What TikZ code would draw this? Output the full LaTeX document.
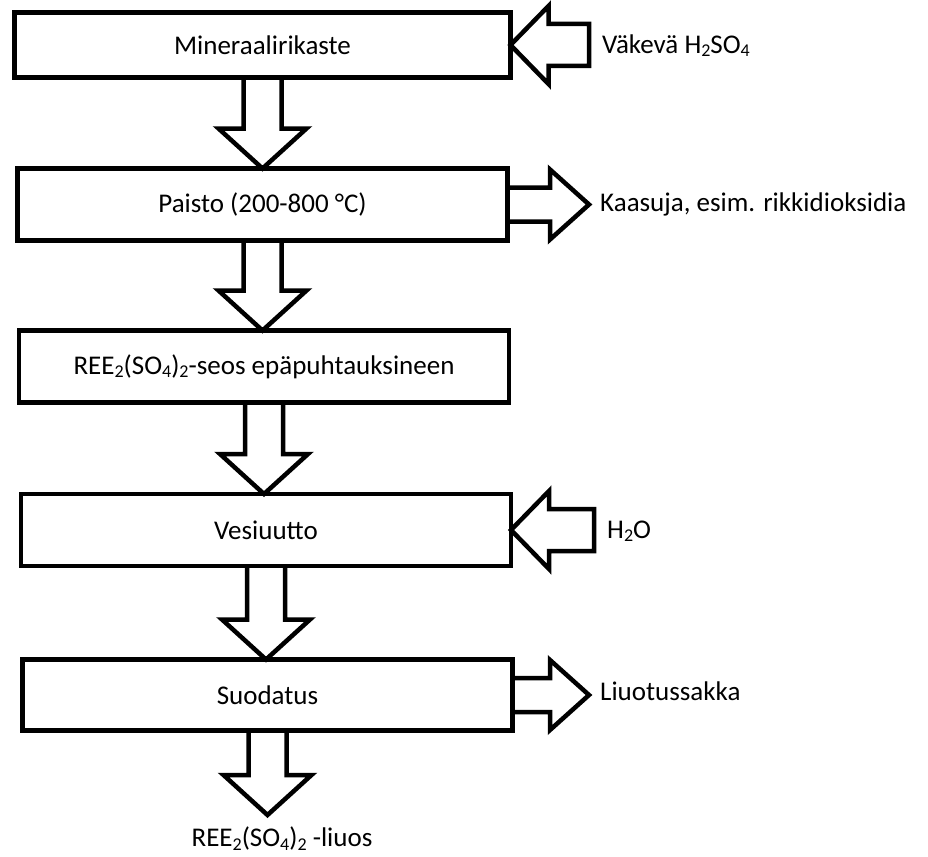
\documentclass[tikz,border=0pt]{standalone}
\usepackage{fontspec}
\setmainfont{Carlito}
\usepackage{tikz}
\usetikzlibrary{calc, positioning}

\tikzset{
    procbox/.style={draw, line width=4.5pt, outer sep=0pt, inner sep=0pt,
        font=\fontsize{27}{32}\selectfont},
    blockarrow/.style={draw, line width=4.5pt, line join=miter},
    sidetext/.style={anchor=west, inner sep=0pt, font=\fontsize{27}{32}\selectfont}
}

% alaindeksi kemiallisiin kaavoihin
\newcommand{\chsub}[1]{\raisebox{-0.12em}{\fontsize{18}{18}\selectfont #1}}

% nuoli alaspäin: #1 lähtöpiste, #2 kärki
\newcommand{\downblock}[2]{%
    \draw[blockarrow] ($(#1)+(-19,0)$) -- ($(#1 |- #2)+(-19,-40)$)
        -- ($(#1 |- #2)+(-44,-40)$) -- (#1 |- #2)
        -- ($(#1 |- #2)+(44,-40)$) -- ($(#1 |- #2)+(19,-40)$) -- ($(#1)+(19,0)$);}

% nuoli laatikkoon: #1 laatikko, #2 teksti
\newcommand{\inblock}[2]{%
    \draw[blockarrow] (#1.east) -- ($(#1.east)+(38,-39)$) -- ($(#1.east)+(38,-21)$)
        -- ($(#1.east -| #2.west)+(-13,-21)$) -- ($(#1.east -| #2.west)+(-13,21)$)
        -- ($(#1.east)+(38,21)$) -- ($(#1.east)+(38,39)$) -- cycle;}

% nuoli laatikosta ulos: #1 laatikko, #2 teksti
\newcommand{\outblock}[2]{%
    \draw[blockarrow] ($(#1.east)+(0,-17)$) -- ($(#1.east -| #2.west)+(-50,-17)$)
        -- ($(#1.east -| #2.west)+(-50,-35)$) -- ($(#1.east -| #2.west)+(-11,0)$)
        -- ($(#1.east -| #2.west)+(-50,35)$) -- ($(#1.east -| #2.west)+(-50,17)$)
        -- ($(#1.east)+(0,17)$);}

\begin{document}
\begin{tikzpicture}[x=1pt, y=-1pt]
    \useasboundingbox (0,0) rectangle (928,856);

    % Prosessivaiheet
    \node[procbox, minimum width=496pt, minimum height=65pt] (mineral) at (262.5,45) {Mineraalirikaste};
    \node[procbox, minimum width=490pt, minimum height=72pt] (paisto) at (262.5,204.5) {Paisto (200-800 °C)};
    \node[procbox, minimum width=490pt, minimum height=72pt] (seos) at (264,366.5) {REE\chsub{2}(SO\chsub{4})\chsub{2}-seos epäpuhtauksineen};
    \node[procbox, minimum width=490pt, minimum height=72pt] (vesi) at (266,530) {Vesiuutto};
    \node[procbox, minimum width=490pt, minimum height=71pt] (suodatus) at (267.5,695) {Suodatus};

    % Syötteet ja poistuvat virrat
    \node[sidetext] (happo) at (602,46) {Väkevä H\chsub{2}SO\chsub{4}};
    \node[sidetext] (kaasu) at (600,204) {Kaasuja, esim. rikkidioksidia};
    \node[sidetext] (vesitxt) at (607,531) {H\chsub{2}O};
    \node[sidetext] (sakka) at (600,691) {Liuotussakka};

    % Tuote
    \coordinate (endtip) at (265,815);
    \node[sidetext, anchor=north, below=12pt of endtip, xshift=17pt] (liuos) {REE\chsub{2}(SO\chsub{4})\chsub{2} -liuos};

    % Nuolet vaiheiden välillä
    \downblock{mineral.south}{paisto.north}
    \downblock{paisto.south}{seos.north}
    \downblock{seos.south}{vesi.north}
    \downblock{vesi.south}{suodatus.north}
    \downblock{suodatus.south}{endtip}

    % Sivunuolet
    \inblock{mineral}{happo}
    \outblock{paisto}{kaasu}
    \inblock{vesi}{vesitxt}
    \outblock{suodatus}{sakka}
\end{tikzpicture}
\end{document}
